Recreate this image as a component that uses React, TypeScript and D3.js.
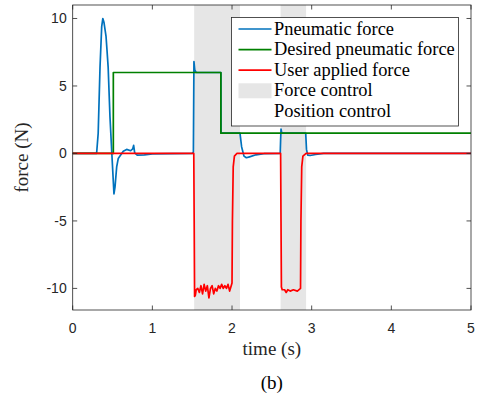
import React, { useEffect, useRef } from "react";
import { select, scaleLinear, line } from "d3";

// time (s) / force (N) samples
const pneumaticForce: [number, number][] = [
  [0, 0], [0.3, 0], [0.32, 1.5], [0.343, 6.4], [0.364, 9.4], [0.378, 10], [0.393, 9.7],
  [0.418, 8.7], [0.43, 7.7], [0.445, 6.4], [0.468, 2.7], [0.489, 0.25], [0.518, -3.0],
  [0.531, -2.5], [0.552, -1.0], [0.572, -0.37], [0.602, -0.12], [0.635, 0.17], [0.677, 0.3],
  [0.728, 0.2], [0.753, 0.34], [0.765, 0.6], [0.778, 0.05], [0.81, -0.12], [0.9, -0.1],
  [1.0, -0.03], [1.5, 0], [1.515, 0.1], [1.522, 6.8], [1.532, 6.2], [1.55, 6.0], [1.86, 6.0],
  [1.862, 1.5], [2.1, 1.5], [2.12, 0.5], [2.15, -0.2], [2.18, -0.32], [2.22, -0.25],
  [2.3, -0.1], [2.4, -0.02], [2.605, 0], [2.61, 1.0], [2.615, 1.8], [2.625, 1.5], [2.925, 1.5],
  [2.935, 0.3], [2.95, -0.12], [2.98, -0.15], [3.05, -0.08], [3.15, 0], [5, 0],
];

const desiredForce: [number, number][] = [
  [0, 0], [0.51, 0], [0.51, 6], [1.86, 6], [1.86, 1.5], [5, 1.5],
];

const userForce: [number, number][] = [
  [0, 0], [1.52, 0], [1.525, -5], [1.53, -10.6], [1.54, -10.5], [1.55, -10.1], [1.57, -10.0],
  [1.59, -10.3], [1.61, -9.8], [1.63, -10.4], [1.65, -9.7], [1.67, -10.2], [1.69, -9.8],
  [1.71, -10.7], [1.73, -10.0], [1.75, -9.8], [1.77, -10.4], [1.79, -10.0], [1.81, -10.2],
  [1.83, -9.8], [1.85, -10.0], [1.87, -9.7], [1.89, -10.0], [1.91, -9.8], [1.93, -10.0],
  [1.95, -9.7], [1.97, -10.2], [1.99, -9.8], [2.0, -9.6], [2.005, -5], [2.015, -1],
  [2.03, -0.2], [2.06, 0], [2.61, 0], [2.615, -5], [2.62, -9.9], [2.63, -10.1], [2.66, -10.1],
  [2.68, -10.3], [2.7, -10.1], [2.73, -10.2], [2.77, -10.1], [2.82, -10.2], [2.86, -10.0],
  [2.865, -5], [2.875, -1], [2.89, -0.2], [2.93, 0], [5, 0],
];

const forceControlSpans: [number, number][] = [[1.525, 2.1], [2.61, 2.93]];

const timeTicks = [0, 1, 2, 3, 4, 5];
const forceTicks = [-10, -5, 0, 5, 10];

const legendItems = [
  { label: "Pneumatic force", color: "#0072BD", kind: "line" },
  { label: "Desired pneumatic force", color: "#008000", kind: "line" },
  { label: "User applied force", color: "#FF0000", kind: "line" },
  { label: "Force control", color: "#E6E6E6", kind: "patch" },
  { label: "Position control", color: "#FFFFFF", kind: "patch" },
];

const W = 479;
const H = 399;
const margin = { left: 72.7, right: 8, top: 5, bottom: 89 };
const axisColor = "#262626";
const sans = "'Liberation Sans', Arial, sans-serif";
const serif = "'Liberation Serif', 'Times New Roman', serif";

function App() {
  const svgRef = useRef<SVGSVGElement>(null);

  useEffect(() => {
    const svg = select(svgRef.current);
    svg.selectAll("*").remove();

    const x0 = margin.left;
    const x1 = W - margin.right;
    const y0 = margin.top;
    const y1 = H - margin.bottom;

    const xScale = scaleLinear().domain([0, 5]).range([x0, x1]);
    const yScale = scaleLinear().domain([-11.6, 11]).range([y1, y0]);

    // shaded force control periods
    svg
      .selectAll(".span")
      .data(forceControlSpans)
      .join("rect")
      .attr("class", "span")
      .attr("x", (d) => xScale(d[0]))
      .attr("width", (d) => xScale(d[1]) - xScale(d[0]))
      .attr("y", y0)
      .attr("height", y1 - y0)
      .attr("fill", "#E6E6E6");

    const lineGenerator = line<[number, number]>()
      .x((d) => xScale(d[0]))
      .y((d) => yScale(d[1]));

    const series = [
      { data: pneumaticForce, color: "#0072BD" },
      { data: desiredForce, color: "#008000" },
      { data: userForce, color: "#FF0000" },
    ];

    svg
      .selectAll(".series")
      .data(series)
      .join("path")
      .attr("class", "series")
      .attr("fill", "none")
      .attr("stroke", (d) => d.color)
      .attr("stroke-width", 1.7)
      .attr("stroke-linejoin", "round")
      .attr("d", (d) => lineGenerator(d.data));

    // axes box
    svg
      .append("rect")
      .attr("x", x0)
      .attr("y", y0)
      .attr("width", x1 - x0)
      .attr("height", y1 - y0)
      .attr("fill", "none")
      .attr("stroke", axisColor)
      .attr("stroke-width", 0.8);

    const tickLen = 4.5;
    const ticks = svg.append("g").attr("stroke", axisColor).attr("stroke-width", 0.8);
    timeTicks.forEach((t) => {
      const x = xScale(t);
      ticks.append("line").attr("x1", x).attr("x2", x).attr("y1", y1).attr("y2", y1 - tickLen);
      ticks.append("line").attr("x1", x).attr("x2", x).attr("y1", y0).attr("y2", y0 + tickLen);
    });
    forceTicks.forEach((v) => {
      const y = yScale(v);
      ticks.append("line").attr("x1", x0).attr("x2", x0 + tickLen).attr("y1", y).attr("y2", y);
      ticks.append("line").attr("x1", x1).attr("x2", x1 - tickLen).attr("y1", y).attr("y2", y);
    });

    svg
      .selectAll(".xlab")
      .data(timeTicks)
      .join("text")
      .attr("class", "xlab")
      .attr("x", (d) => xScale(d))
      .attr("y", y1 + 23)
      .attr("text-anchor", "middle")
      .attr("font-family", sans)
      .attr("font-size", 14)
      .attr("fill", axisColor)
      .text((d) => d);

    svg
      .selectAll(".ylab")
      .data(forceTicks)
      .join("text")
      .attr("class", "ylab")
      .attr("x", x0 - 6)
      .attr("y", (d) => yScale(d) + 5)
      .attr("text-anchor", "end")
      .attr("font-family", sans)
      .attr("font-size", 14)
      .attr("fill", axisColor)
      .text((d) => d);

    svg
      .append("text")
      .attr("x", (x0 + x1) / 2)
      .attr("y", 355)
      .attr("text-anchor", "middle")
      .attr("font-family", serif)
      .attr("font-size", 19)
      .attr("fill", axisColor)
      .text("time (s)");

    svg
      .append("text")
      .attr("transform", `translate(28,${(y0 + y1) / 2}) rotate(-90)`)
      .attr("text-anchor", "middle")
      .attr("font-family", serif)
      .attr("font-size", 19)
      .attr("fill", axisColor)
      .text("force (N)");

    svg
      .append("text")
      .attr("x", (x0 + x1) / 2)
      .attr("y", 389)
      .attr("text-anchor", "middle")
      .attr("font-family", serif)
      .attr("font-size", 19)
      .attr("fill", "#000")
      .text("(b)");

    // legend
    const lg = svg.append("g").attr("transform", "translate(231.5,17.5)");
    lg.append("rect")
      .attr("width", 227)
      .attr("height", 108.5)
      .attr("fill", "#fff")
      .attr("stroke", axisColor)
      .attr("stroke-width", 0.8);

    const rows = lg
      .selectAll(".row")
      .data(legendItems)
      .join("g")
      .attr("class", "row")
      .attr("transform", (d, i) => `translate(0,${11.5 + i * 20.6})`);

    rows
      .filter((d) => d.kind === "line")
      .append("line")
      .attr("x1", 7)
      .attr("x2", 40)
      .attr("stroke", (d) => d.color)
      .attr("stroke-width", 1.7);

    rows
      .filter((d) => d.kind === "patch")
      .append("rect")
      .attr("x", 7)
      .attr("width", 33)
      .attr("y", -7.5)
      .attr("height", 15)
      .attr("fill", (d) => d.color);

    rows
      .append("text")
      .attr("x", 42.5)
      .attr("y", 5.5)
      .attr("font-family", serif)
      .attr("font-size", 18.4)
      .attr("fill", "#000")
      .text((d) => d.label);
  }, []);

  return (
    <svg
      ref={svgRef}
      width={W}
      height={H}
      style={{ position: "absolute", left: 0, top: 0, background: "#fff" }}
    />
  );
}

export default App;
